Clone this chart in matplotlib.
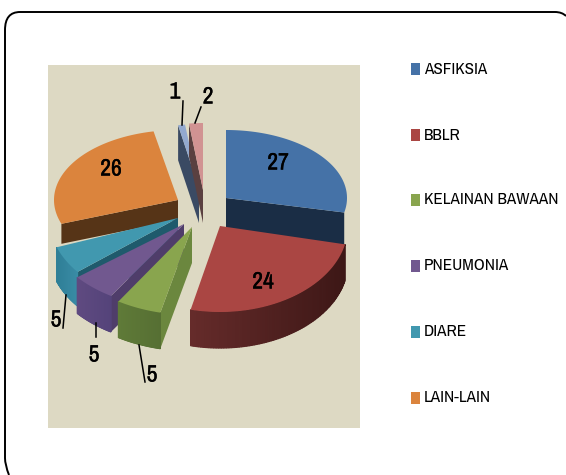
import numpy as np
import matplotlib
matplotlib.use("Agg")
import matplotlib.pyplot as plt
import matplotlib.patheffects as pe
from matplotlib.patches import Polygon, Rectangle, PathPatch
from matplotlib.path import Path
from matplotlib.colors import to_rgb

categories = ["ASFIKSIA", "BBLR", "KELAINAN BAWAAN", "PNEUMONIA", "DIARE", "LAIN-LAIN", "", ""]
values = [27, 24, 5, 5, 5, 26, 1, 2]
labels = ["27", "24", "5", "5", "5", "26", "1", "2"]

colors = ["#4572A7", "#AA4643", "#89A54E", "#71588F", "#4198AF", "#DB843D", "#93A9CF", "#D19392"]
wall_colors = ["#1A2D45", "#441A1A", "#6B873E", "#4F3D6A", "#1F5A6C", "#563417", "#3A4A63", "#5A4040"]
side_left = ["#2B4568", "#652B2A", "#5F7A38", "#5F4A80", "#2F7F97", "#DB843D", "#3A4A63", "#5A4040"]
side_right = ["#1A2D45", "#3D1716", "#566F33", "#54437A", "#3A8CA6", "#C77730", "#3A4A63", "#5A4040"]
# apex x, apex y, radius x, radius y, depth of the extruded body
geometry = [
    (226, 198, 121, 68, 34),
    (220, 226, 128, 86, 36),
    (192, 227, 138, 88, 36),
    (184, 224, 137, 85, 36),
    (178, 218, 129, 86, 34),
    (178, 200, 124, 70, 20),
    (199, 188, 106, 64, 35),
    (203, 190, 106, 67, 33),
]
draw_order = [6, 7, 5, 0, 4, 3, 2, 1]
wall_edge = {0: "end", 2: "start", 3: "start", 4: "start", 5: "start", 6: "start", 7: "start"}
curved_side = [1, 2, 3, 4]
label_pos = [(278, 163), (263, 282), (152, 375), (94, 355), (56, 320), (111, 169), (175, 92), (208, 97)]
leader_lines = [None, None, [(139, 345), (145, 382)], [(96, 323), (96, 337)],
                [(66, 295), (63, 328)], None, [(183, 101), (182, 125)], [(201, 107), (195, 123)]]

plt.rcParams["font.family"] = ["Archivo Narrow", "Liberation Sans", "DejaVu Sans"]
fig = plt.figure(figsize=(5.66, 4.75), dpi=100)
ax = fig.add_axes([0, 0, 1, 1])
ax.set_xlim(0, 566)
ax.set_ylim(475, 0)
ax.axis("off")

# rounded frame open at right and bottom
frame = Path([(9, 475), (5, 465), (5, 458), (5, 30), (5, 12), (20, 12), (555, 12), (562, 12), (566, 16)],
             [Path.MOVETO, Path.CURVE3, Path.CURVE3, Path.LINETO, Path.CURVE3, Path.CURVE3, Path.LINETO, Path.CURVE3, Path.CURVE3])
ax.add_patch(PathPatch(frame, fill=False, edgecolor="black", lw=1.4))
ax.add_patch(Rectangle((48, 65), 312, 363, facecolor="#DDD9C3", edgecolor="none"))

total = sum(values)
edges = np.concatenate([[0], np.cumsum(values)]) / total * 2 * np.pi


def pt(g, t):
    return g[0] + g[2] * np.sin(t), g[1] - g[3] * np.cos(t)


for i in draw_order:
    g = geometry[i]
    t0, t1 = edges[i], edges[i + 1]
    ts = np.linspace(t0, t1, 80)
    apex = (g[0], g[1])
    depth = g[4]
    # flat cut wall
    if i in wall_edge:
        t = t0 if wall_edge[i] == "start" else t1
        rim = pt(g, t)
        ax.add_patch(Polygon([apex, rim, (rim[0], rim[1] + depth), (apex[0], apex[1] + depth)],
                             closed=True, facecolor=wall_colors[i], edgecolor="none"))
    # outer curved side, shaded in strips
    if i in curved_side:
        c0, c1 = np.array(to_rgb(side_left[i])), np.array(to_rgb(side_right[i]))
        xa, xb = pt(g, t0)[0], pt(g, t1)[0]
        lo, span = min(xa, xb), max(abs(xa - xb), 1)
        for a, b in zip(ts[:-1], ts[1:]):
            pa, pb = pt(g, a), pt(g, b)
            f = float(np.clip(((pa[0] + pb[0]) / 2 - lo) / span, 0, 1))
            col = c0 + (c1 - c0) * f
            ax.add_patch(Polygon([pa, pb, (pb[0], pb[1] + depth), (pa[0], pa[1] + depth)], closed=True,
                                 facecolor=col, edgecolor=col, lw=0.9))
    # top face
    top = [apex] + [pt(g, t) for t in ts]
    ax.add_patch(Polygon(top, closed=True, facecolor=colors[i], edgecolor="none"))

for lab, (x, y) in zip(labels, label_pos):
    ax.text(x, y, lab, ha="center", va="center", fontsize=17, color="black",
            path_effects=[pe.withStroke(linewidth=0.25, foreground="black")])
for seg in leader_lines:
    if seg is not None:
        ax.plot([p[0] for p in seg], [p[1] for p in seg], color="black", lw=1.1)

# legend
legend_y = [69, 135, 200, 266, 332, 398]
for name, col, y in zip(categories, colors, legend_y):
    ax.add_patch(Rectangle((411, y - 6), 9, 12, facecolor=col, edgecolor="none"))
    ax.text(424, y, name, ha="left", va="center", fontsize=12.3, color="black")

fig.savefig("out.png", dpi=100)
